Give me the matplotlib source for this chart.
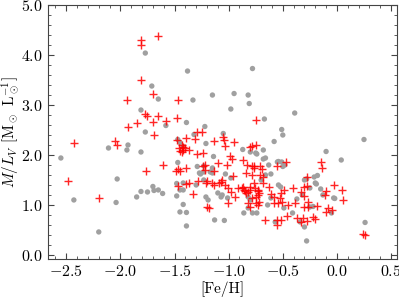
import matplotlib
matplotlib.use('Agg')
import matplotlib.pyplot as plt
import numpy as np
from matplotlib.ticker import MultipleLocator, FuncFormatter

plt.rcParams['font.family'] = 'serif'
plt.rcParams['font.serif'] = ['cmr10']
plt.rcParams['mathtext.fontset'] = 'cm'
plt.rcParams['axes.formatter.use_mathtext'] = True
plt.rcParams['font.size'] = 11

# grey points: [Fe/H], M/L_V
grey_feh = [-2.55, -2.43, -2.20, -2.04, -2.03, -1.85, -1.81, -1.75, -1.70, -1.69, -1.65, -1.61,
            -1.48, -1.47, -1.48, -1.45, -1.45, -1.42, -1.39, -1.39, -1.42, -1.29,
            -2.11, -1.93, -1.77, -1.71, -1.65, -1.81, -1.77, -1.58, -1.39, -1.33, -1.38,
            -1.47, -1.45, -1.42, -1.32,
            -0.78, -1.15, -0.95, -0.82, -0.81, -0.98, -0.67, -0.39, -0.51, -0.50, -0.58,
            0.25, -1.22, -1.21, -1.05, -0.87, -0.68,
            -1.14, -1.23, -0.75, -0.54, -0.50, 0.04, -0.10, -0.18, -0.20, -0.02, -0.22,
            0.26, -0.28, -1.13, -1.04, -0.57, -0.30,
            -0.80, -0.74, -0.55, -0.51, -0.48, -0.68, -0.66, -0.61, -0.28, -0.30, -0.21,
            -0.19, -0.15, -0.03, -0.13, -0.05,
            -1.42, -1.26, -1.23, -1.17, -1.15, -1.03, -0.98, -1.21, -1.19, -1.10, -1.06,
            -0.86, -0.82, -0.78, -0.74, -0.82, -0.80,
            -0.54, -0.52, -0.61, -0.64, -0.49, -0.41, -0.37, -0.25, -0.32, -0.25, -0.34,
            -1.94, -1.81, -1.27, -1.30,
            -1.15, -1.01, -1.07, -0.70, -0.66, -0.63, -1.23]
grey_ml = [1.94, 1.10, 0.46, 1.05, 1.52, 1.16, 1.27, 1.26, 1.37, 1.29, 1.30, 1.23,
           1.18, 1.85, 1.43, 1.30, 0.86, 1.01, 0.85, 0.58, 1.44, 1.77,
           2.14, 2.20, 4.04, 3.38, 3.12, 2.90, 2.46, 2.59, 2.65, 3.10, 3.68,
           2.31, 2.25, 2.17, 2.41,
           3.73, 3.20, 3.23, 3.20, 3.03, 2.92, 2.72, 2.84, 2.51, 2.40, 2.27,
           2.31, 2.57, 2.23, 2.43, 2.11, 2.10,
           1.97, 1.78, 2.04, 1.87, 1.77, 1.90, 2.07, 1.59, 1.44, 1.13, 0.97,
           0.65, 0.28, 0.70, 0.69, 0.66, 0.56,
           2.06, 2.02, 1.86, 1.86, 1.80, 1.92, 1.94, 1.62, 1.52, 1.50, 1.56,
           1.42, 1.32, 1.14, 1.20, 0.84,
           1.30, 1.62, 1.66, 1.66, 1.64, 1.62, 1.54, 1.16, 1.10, 1.24, 1.20,
           0.84, 0.94, 0.84, 0.84, 1.16, 1.10,
           1.40, 1.36, 1.14, 1.00, 0.94, 0.84, 1.12, 1.34, 1.20, 0.96, 0.66,
           2.10, 2.06, 1.64, 1.40,
           1.74, 1.14, 1.16, 1.50, 1.60, 1.80, 1.50]

# red crosses: [Fe/H], M/L_V
red_feh = [-2.48, -2.20, -1.76, -1.61, -1.49, -1.47, -1.45, -1.47, -1.39, -1.37, -1.33, -1.29, -1.28,
           -2.43, -2.05, -2.03, -1.94, -1.93, -1.85, -1.81, -1.81, -1.65, -1.81, -1.70, -1.77,
           -1.75, -1.65, -1.70, -1.69, -1.58, -1.47, -1.48, -1.48, -1.39, -1.31, -1.29, -1.43, -1.40,
           -0.75, -1.25, -1.14, -1.05, -1.04, -1.03, -0.95, -0.80, -0.75,
           -0.99, -0.97, -1.22, -1.10, -1.02, -0.87, -0.83, -0.77, -0.71, -0.47, -0.15, -0.14,
           -0.28, -0.28, -0.03, 0.05, 0.06, -0.10, -0.11, -0.08, -0.10, 0.24, 0.26, -1.20, -1.18,
           -0.66, -0.55, -0.52, -0.55, -0.46, -0.37, -0.31, -0.28, -0.22, -0.20, -0.33,
           -0.78, -0.55, -0.78, -0.77, -0.69, -0.71, -0.68,
           -1.46, -1.42, -1.37, -1.24, -1.39, -1.24, -1.22, -1.14, -0.96, -1.06, -1.20,
           -0.88, -0.85, -0.80, -0.76, -0.73,
           -1.21, -1.15, -1.14, -1.09, -1.07, -1.03, -1.01, -0.98, -0.94, -0.91, -0.87, -0.86,
           -0.84, -0.82, -0.80, -0.77, -0.73, -0.73, -0.78, -0.82, -0.80, -0.75, -0.73, -0.72,
           -0.84, -0.78, -1.01,
           -0.68, -0.63, -0.72, -0.75, -0.61, -0.58, -0.52, -0.49, -0.53, -0.51, -0.54, -0.58,
           -0.45, -0.41, -0.39, -0.33, -0.30, -0.30, -0.27, -0.30, -0.27, -0.18, -0.05,
           -1.42, -1.45, -1.43]
red_ml = [1.48, 1.14, 1.68, 1.80, 1.67, 1.72, 1.67, 1.38, 1.42, 1.43, 1.21, 2.02, 1.47,
          2.24, 2.28, 2.20, 3.10, 2.56, 2.64, 4.30, 4.20, 4.38, 3.50, 3.22, 2.82,
          2.78, 2.78, 2.66, 2.41, 2.69, 3.10, 2.75, 2.30, 2.35, 2.33, 2.47, 2.21, 2.13,
          2.70, 2.47, 2.28, 2.37, 2.30, 2.17, 2.27, 2.15, 2.21,
          1.97, 1.92, 1.80, 1.83, 1.80, 1.90, 1.80, 1.77, 1.78, 1.85, 1.85, 1.73,
          1.55, 1.37, 1.40, 1.30, 1.10, 1.27, 1.19, 0.93, 0.86, 0.42, 0.39, 0.96, 0.93,
          0.70, 0.70, 0.70, 0.60, 0.78, 0.74, 0.74, 0.68, 0.76, 0.72, 0.66,
          2.18, 1.78, 1.78, 1.74, 1.72, 1.60, 1.56,
          2.14, 2.10, 2.10, 2.04, 1.74, 1.78, 1.70, 1.67, 1.58, 1.50, 1.47,
          1.33, 1.27, 1.30, 1.33, 1.27,
          1.44, 1.44, 1.40, 1.44, 1.46, 1.40, 1.34, 1.26, 1.16, 1.34, 1.36, 1.30,
          1.24, 1.26, 1.36, 1.44, 1.30, 1.20, 1.14, 1.04, 0.96, 1.04, 1.00, 1.06,
          1.64, 1.60, 1.04,
          1.44, 1.36, 1.24, 1.16, 1.22, 1.16, 1.24, 1.30, 1.14, 1.06, 1.04, 1.04,
          1.00, 1.34, 1.04, 1.26, 1.36, 1.18, 1.06, 0.96, 0.96, 0.98, 0.90,
          2.16, 2.08, 2.06]

fig = plt.figure(figsize=(3.99, 2.99), dpi=100)
ax = fig.add_axes([0.12, 0.134, 0.875, 0.849])

ax.scatter(grey_feh, grey_ml, s=15, color='#a0a0a0', edgecolors='none', zorder=2)
ax.scatter(red_feh, red_ml, s=38, marker='+', color='red', linewidths=1.0, alpha=0.85, zorder=3)

ax.set_xlim(-2.67, 0.555)
ax.set_ylim(-0.08, 5.0)
ax.xaxis.set_major_locator(MultipleLocator(0.5))
ax.xaxis.set_minor_locator(MultipleLocator(0.1))
ax.yaxis.set_major_locator(MultipleLocator(1.0))
ax.yaxis.set_minor_locator(MultipleLocator(0.2))
fmt = FuncFormatter(lambda v, p: r'$%.1f$' % v)
ax.xaxis.set_major_formatter(fmt)
ax.yaxis.set_major_formatter(fmt)
ax.tick_params(which='both', direction='in', top=True, right=True, color='#444444')
ax.tick_params(which='major', length=4.5, width=0.8, labelsize=11.5)
ax.tick_params(which='minor', length=2.5, width=0.6)
for sp in ax.spines.values():
    sp.set_color('#444444')

ax.set_xlabel('[Fe/H]', labelpad=2)
ax.set_ylabel(r'$M/L_V$ [M$_\odot$ L$_\odot^{-1}$]', labelpad=0)

fig.savefig('out.png', dpi=100)
